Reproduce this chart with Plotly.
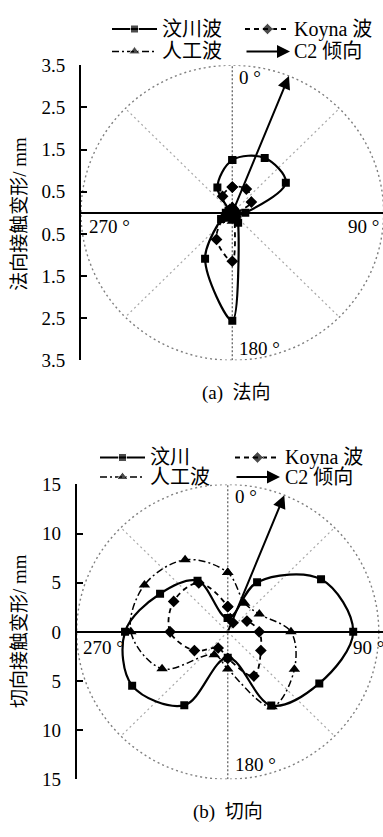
import numpy as np
import plotly.graph_objects as go

# Loading directions (degrees, clockwise from 0 ° at the top)
angles = [0, 30, 60, 90, 120, 150, 180, 210, 240, 270, 300, 330]

# (a) normal contact deformation, mm
wenchuan_n = [1.25, 1.50, 1.43, 0.30, 0.12, 0.27, 2.56, 1.26, 0.30, 0.15, 0.10, 0.69]
koyna_n = [0.61, 0.65, 0.51, 0.08, 0.05, 0.10, 1.15, 0.73, 0.24, 0.08, 0.10, 0.45]
artificial_n = [0.15, 0.12, 0.10, 0.12, 0.10, 0.15, 0.20, 0.18, 0.20, 0.12, 0.10, 0.12]

# (b) tangential contact deformation, mm
wenchuan_t = [1.40, 5.83, 10.70, 12.46, 10.50, 8.65, 2.63, 8.63, 10.96, 10.20, 7.76, 6.00]
koyna_t = [2.56, 1.07, 2.20, 3.13, 3.80, 5.20, 2.70, 1.90, 3.82, 5.72, 6.20, 5.75]
artificial_t = [6.03, 3.37, 3.62, 6.28, 7.64, 8.80, 3.79, 2.68, 7.53, 9.62, 9.55, 8.47]

# dip direction of fault C2, degrees
c2_dip = 22

# axis extents and tick labels
r_max_n = 3.5
r_max_t = 15
ticks_n = [3.5, 2.5, 1.5, 0.5, -0.5, -1.5, -2.5, -3.5]
ticks_t = [15, 10, 5, 0, -5, -10, -15]

W, H = 383, 837
SERIF = "Times New Roman, Liberation Serif, serif"
CJK = "Times New Roman, Liberation Serif, Noto Sans CJK SC, sans-serif"

series_style = [
    dict(name="汶川波", symbol="square", size=8, dash="solid", width=2.2),
    dict(name="Koyna 波", symbol="diamond", size=9, dash="5px,4px", width=1.8),
    dict(name="人工波", symbol="triangle-up", size=10, dash="7px,3px,2px,3px", width=1.5),
]


def to_xy(theta_deg, r):
    th = np.radians(np.asarray(theta_deg + theta_deg[:1], dtype=float))
    rr = np.asarray(r + r[:1], dtype=float)
    return rr * np.sin(th), rr * np.cos(th)


fig = go.Figure()


def add_panel(series, xa, ya, R):
    ax_name = "x" if xa == "x1" else xa
    ay_name = "y" if ya == "y1" else ya
    # reference circle and guide lines
    fig.add_shape(type="circle", xref=ax_name, yref=ay_name, x0=-R, y0=-R, x1=R, y1=R,
                  line=dict(color="#7f7f7f", width=1.4, dash="2px,3px"), layer="below")
    fig.add_shape(type="line", xref=ax_name, yref=ay_name, x0=0, y0=-R, x1=0, y1=R,
                  line=dict(color="#707070", width=1.4, dash="2px,2px"), layer="below")
    for a in (45, 135, 225, 315):
        t = np.radians(a)
        fig.add_shape(type="line", xref=ax_name, yref=ay_name, x0=0, y0=0,
                      x1=R * np.sin(t), y1=R * np.cos(t),
                      line=dict(color="#a8a8a8", width=1.2, dash="2px,3px"), layer="below")
    for vals, st in zip(series, series_style):
        x, y = to_xy(angles, vals)
        fig.add_trace(go.Scatter(
            x=x, y=y, xaxis=ax_name, yaxis=ay_name, mode="lines+markers",
            line=dict(color="black", width=st["width"], dash=st["dash"], shape="spline", smoothing=1.0),
            marker=dict(symbol=st["symbol"], size=st["size"], color="black"),
            showlegend=False, hoverinfo="skip"))
    # dip direction arrow
    t = np.radians(c2_dip)
    fig.add_annotation(xref=ax_name, yref=ay_name, axref=ax_name, ayref=ay_name,
                       x=R * np.sin(t), y=R * np.cos(t), ax=0, ay=0, text="",
                       showarrow=True, arrowhead=2, arrowsize=1.3, arrowwidth=2,
                       arrowcolor="black", standoff=0)


add_panel([wenchuan_n, koyna_n, artificial_n], "x1", "y1", r_max_n)
add_panel([wenchuan_t, koyna_t, artificial_t], "x2", "y2", r_max_t)

# ---- layout geometry (pixels) ----
def py(p):
    return 1 - p / H

axis_common = dict(showgrid=False, zeroline=False, showline=False, showticklabels=False, ticks="")
yaxis_common = dict(showgrid=False, showline=True, linecolor="black", linewidth=2,
                    ticks="inside", ticklen=6, tickwidth=2, tickcolor="black",
                    zeroline=True, zerolinecolor="black", zerolinewidth=2,
                    tickfont=dict(family=SERIF, size=19, color="black"),
                    ticklabelstandoff=10)

fig.update_layout(
    width=W, height=H, margin=dict(l=0, r=0, t=0, b=0),
    paper_bgcolor="white", plot_bgcolor="rgba(0,0,0,0)",
    xaxis=dict(domain=[81 / W, 1], range=[-3.5, 3.486], **axis_common),
    yaxis=dict(domain=[py(359.3), py(56.7)], range=[-3.5, 3.5], tickmode="array",
               tickvals=ticks_n, ticktext=[f"{abs(v):g}" for v in ticks_n], **yaxis_common),
    xaxis2=dict(domain=[76.7 / W, 1], range=[-15, 15.42], anchor="y2", **axis_common),
    yaxis2=dict(domain=[py(789), py(486.7)], range=[-15, 15], anchor="x2", tickmode="array",
                tickvals=ticks_t, ticktext=[f"{abs(v):g}" for v in ticks_t], **yaxis_common),
    xaxis3=dict(domain=[0, 1], range=[0, W], anchor="y3", visible=False, fixedrange=True),
    yaxis3=dict(domain=[0, 1], range=[H, 0], anchor="x3", visible=False, fixedrange=True),
    showlegend=False,
)

# ---- angle labels ----
def label(text, xref, yref, x, y, size=19, anchor="left"):
    fig.add_annotation(xref=xref, yref=yref, x=x, y=y, text=text, showarrow=False,
                       xanchor=anchor, yanchor="middle",
                       font=dict(family=SERIF, size=size, color="black"))

for lx, ly, txt in [(0.1, 3.2, "0 °"), (2.62, -0.32, "90 °"), (0.1, -3.21, "180 °"), (-3.36, -0.32, "270 °")]:
    label(txt, "x", "y", lx, ly)
for lx, ly, txt in [(0.5, 13.8, "0 °"), (12.2, -1.55, "90 °"), (0.5, -13.5, "180 °"), (-14.6, -1.55, "270 °")]:
    label(txt, "x2", "y2", lx, ly)

# ---- axis titles and captions (pixel coordinates on overlay axes) ----
fig.add_annotation(xref="x3", yref="y3", x=20, y=209, text="法向接触变形/ mm", textangle=-90,
                   showarrow=False, font=dict(family=CJK, size=19, color="black"))
fig.add_annotation(xref="x3", yref="y3", x=19, y=637, text="切向接触变形/ mm", textangle=-90,
                   showarrow=False, font=dict(family=CJK, size=19, color="black"))
fig.add_annotation(xref="x3", yref="y3", x=236.5, y=393, text="(a)  法向",
                   showarrow=False, font=dict(family=CJK, size=19, color="black"))
fig.add_annotation(xref="x3", yref="y3", x=227.5, y=823, text="(b)  切向",
                   showarrow=False, font=dict(family=CJK, size=19, color="black"))

# ---- legends ----
def legend_block(rows, col1, col2, names):
    (r1, r2) = rows
    entries = [(col1, r1, series_style[0], names[0]),
               (col2, r1, series_style[1], names[1]),
               (col1, r2, series_style[2], names[2])]
    for (x0, x1, xt), yy, st, nm in entries:
        fig.add_trace(go.Scatter(
            x=[x0, (x0 + x1) / 2, x1], y=[yy, yy, yy], xaxis="x3", yaxis="y3",
            mode="lines+markers",
            line=dict(color="black", width=st["width"], dash=st["dash"]),
            marker=dict(symbol=st["symbol"], size=[0, st["size"], 0], color="black"),
            showlegend=False, hoverinfo="skip"))
        fig.add_annotation(xref="x3", yref="y3", x=xt, y=yy, text=nm, showarrow=False,
                           xanchor="left", yanchor="middle",
                           font=dict(family=CJK, size=20, color="black"))
    x0, x1, xt = col2
    fig.add_annotation(xref="x3", yref="y3", axref="x3", ayref="y3", x=x1, y=r2, ax=x0, ay=r2,
                       text="", showarrow=True, arrowhead=2, arrowsize=1.3, arrowwidth=2,
                       arrowcolor="black", standoff=0)
    fig.add_annotation(xref="x3", yref="y3", x=xt, y=r2, text=names[3], showarrow=False,
                       xanchor="left", yanchor="middle",
                       font=dict(family=CJK, size=20, color="black"))

legend_block((19.5, 42.5), (112, 157, 160), (245, 290, 292), ["汶川波", "Koyna 波", "人工波", "C2 倾向"])
legend_block((459, 479), (100, 145, 148), (235, 280, 283), ["汶川", "Koyna 波", "人工波", "C2 倾向"])

fig.write_html("out.html")
